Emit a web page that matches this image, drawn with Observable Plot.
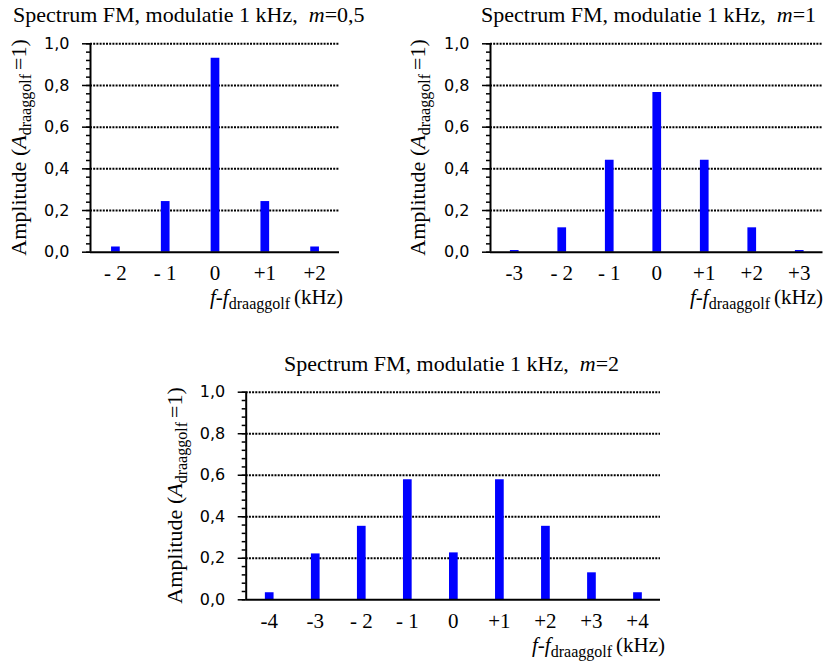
<!DOCTYPE html>
<html><head><meta charset="utf-8">
<script src="https://cdn.jsdelivr.net/npm/d3@7"></script>
<script src="https://cdn.jsdelivr.net/npm/@observablehq/plot@0.6"></script>
<style>
body{margin:0;background:#fff;}
#wrap{position:relative;width:828px;height:662px;overflow:hidden;background:#fff;}
#wrap svg{position:absolute;}
</style></head><body><div id="wrap"></div>
<script>
// ---- data ----
const offsets1 = [-2, -1, 0, 1, 2];
const labels1 = ["- 2", "- 1", "0", "+1", "+2"];
const amps1 = [0.025, 0.243, 0.931, 0.243, 0.025];

const offsets2 = [-3, -2, -1, 0, 1, 2, 3];
const labels2 = ["-3", "- 2", "- 1", "0", "+1", "+2", "+3"];
const amps2 = [0.008, 0.117, 0.441, 0.766, 0.441, 0.117, 0.008];

const offsets3 = [-4, -3, -2, -1, 0, 1, 2, 3, 4];
const labels3 = ["-4", "-3", "- 2", "- 1", "0", "+1", "+2", "+3", "+4"];
const amps3 = [0.034, 0.221, 0.354, 0.578, 0.226, 0.578, 0.354, 0.130, 0.034];

const titles = ["0,5", "1", "2"];
const yTicks = [0, 0.2, 0.4, 0.6, 0.8, 1.0];
const yTickLabels = ["0,0", "0,2", "0,4", "0,6", "0,8", "1,0"];
const yMinor = d3.range(0, 1.0001, 0.04);

const SERIF = "Liberation Serif";
const SANS = "DejaVu Sans";
const wrap = document.getElementById("wrap");

function chart({offsets, amps, labels, left, top, width, height, mL, mR, mT, mB}) {
  const xDomain = [offsets[0] - 0.5, offsets[offsets.length - 1] + 0.5];
  const data = offsets.map((o, i) => ({o, a: amps[i], lab: labels[i]}));
  const yt = yTicks.map((v, i) => ({v, lab: yTickLabels[i]}));
  const p = Plot.plot({
    width, height,
    marginLeft: mL, marginRight: mR, marginTop: mT, marginBottom: mB,
    x: {domain: xDomain, label: null, axis: null},
    y: {domain: [0, 1], label: null, axis: null},
    style: {background: "transparent", overflow: "visible"},
    marks: [
      Plot.ruleY(yTicks.slice(1), {stroke: "black", strokeWidth: 2, strokeDasharray: "2,1.2"}),
      Plot.ruleX(data, {x: "o", y1: 0, y2: "a", stroke: "#0000ff", strokeWidth: 8.7}),
      Plot.ruleY([0], {stroke: "black", strokeWidth: 2}),
      Plot.ruleX([xDomain[0]], {y1: 0, y2: 1, stroke: "black", strokeWidth: 2}),
      Plot.axisY({ticks: yMinor, tickSize: 4, tickFormat: () => "", strokeWidth: 1.5, label: null}),
      Plot.axisY({ticks: yTicks, tickSize: 8, tickFormat: () => "", strokeWidth: 1.5, label: null}),
      Plot.text(yt, {x: xDomain[0], y: "v", text: "lab", dx: -21, textAnchor: "end",
        fontSize: 16, fontFamily: SANS, fill: "black"}),
      Plot.text(data, {x: "o", y: 0, text: "lab", dy: 28, lineAnchor: "bottom",
        fontSize: 21, fontFamily: SERIF, fill: "black"})
    ]
  });
  p.style.left = left + "px";
  p.style.top = top + "px";
  wrap.appendChild(p);
}

chart({offsets: offsets1, amps: amps1, labels: labels1, left: 0, top: 0, width: 414, height: 320,
  mL: 90, mR: 75, mT: 43.3, mB: 68.3});
chart({offsets: offsets2, amps: amps2, labels: labels2, left: 414, top: 0, width: 414, height: 320,
  mL: 76, mR: 5.5, mT: 43.3, mB: 68.3});
chart({offsets: offsets3, amps: amps3, labels: labels3, left: 160, top: 320, width: 520, height: 342,
  mL: 85.7, mR: 20, mT: 71.7, mB: 62.7});

// ---- text overlay ----
const ov = d3.select(wrap).append("svg")
  .attr("width", 828).attr("height", 662)
  .style("left", "0px").style("top", "0px").style("pointer-events", "none");

function label({x, y, anchor = "start", rotate = 0, size = 22, parts}) {
  const t = ov.append("text")
    .attr("transform", `translate(${x},${y}) rotate(${rotate})`)
    .attr("text-anchor", anchor)
    .attr("fill", "black")
    .attr("font-family", SERIF)
    .attr("font-size", size)
    .style("white-space", "pre");
  let shift = 0;
  for (const p of parts) {
    const s = t.append("tspan").text(p.t);
    if (p.italic) s.attr("font-style", "italic");
    const want = p.sub ? 5 : 0;
    if (want !== shift) { s.attr("dy", want - shift); shift = want; }
    if (p.sub) s.attr("font-size", 16);
  }
}

const titleParts = m => [{t: "Spectrum FM, modulatie 1 kHz,  "}, {t: "m", italic: true}, {t: "=" + m}];
label({x: 13, y: 22, parts: titleParts(titles[0])});
label({x: 481, y: 22, parts: titleParts(titles[1])});
label({x: 284, y: 370.7, parts: titleParts(titles[2])});

const xParts = [{t: "f", italic: true}, {t: "-"}, {t: "f", italic: true}, {t: "draaggolf ", sub: true}, {t: "(kHz)"}];
label({x: 343, y: 304, anchor: "end", size: 21, parts: xParts});
label({x: 823, y: 304, anchor: "end", size: 21, parts: xParts});
label({x: 665, y: 652, anchor: "end", size: 21, parts: xParts});

const yParts = [{t: "Amplitude ("}, {t: "A", italic: true}, {t: "draaggolf ", sub: true}, {t: "=1)"}];
label({x: 26, y: 147.5, anchor: "middle", rotate: -90, parts: yParts});
label({x: 425, y: 147.5, anchor: "middle", rotate: -90, parts: yParts});
label({x: 182, y: 495.5, anchor: "middle", rotate: -90, parts: yParts});
</script>
</body></html>
